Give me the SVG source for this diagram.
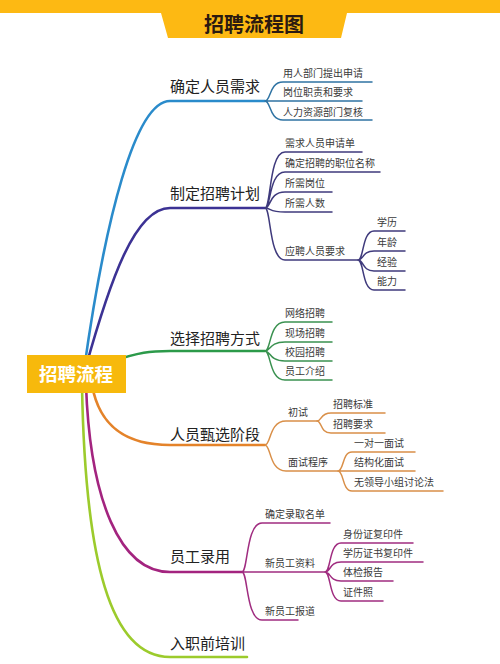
<svg xmlns="http://www.w3.org/2000/svg" width="500" height="664" viewBox="0 0 500 664">
<style>
text{font-family:"Noto Sans CJK SC","Noto Sans",sans-serif}
.main{font-size:15px;fill:#222}
.sub{font-size:10px;fill:#3a3a3a}
.c{fill:none;stroke-linecap:round}
.m{stroke-width:2.6}
.s{stroke-width:1.5}
.blue{stroke:#2a8bcb}.blues{stroke:#2f73a3}
.pur{stroke:#3c3294}.purs{stroke:#3f3a7c}
.grn{stroke:#2c9a4a}.grns{stroke:#3a9150}
.org{stroke:#e4832a}.orgs{stroke:#d98f48}
.mag{stroke:#a3247f}.mags{stroke:#a02d80}
.yg{stroke:#9ccb2c}
</style>
<rect width="500" height="664" fill="#fff"/>
<g id="title">
<polygon points="0,0 500,0 500,13 347,13 341,38 168,38 161,13 0,13" fill="#fdb913"/>
<text x="254" y="32" text-anchor="middle" font-size="20" font-weight="bold" fill="#2b1a10">招聘流程图</text>
</g>
<g id="connectors">
<path class="c m blue" d="M84,370 C105,220 135,101 170,101 H265"/>
<path class="c m pur" d="M85,370 C110,280 135,208 170,208 H265"/>
<path class="c m grn" d="M110,362 C140,352 150,351 170,351 H265"/>
<path class="c m org" d="M92,385 C100,430 130,445 170,445 H265"/>
<path class="c m mag" d="M86,385 C90,500 120,572 170,572 H242"/>
<path class="c m yg" d="M82,385 C85,560 110,657 170,657 H247"/>
<path class="c s blues" d="M265,101 C271,101 269,82 283,82 H372 M265,101 H362 M265,101 C271,101 269,120 283,120 H372"/>
<path class="c s purs" d="M265,208 C271,208 269,152 285,152 H362 M265,208 C271,208 269,172 285,172 H380 M265,208 C271,208 269,192 285,192 H332 M265,208 C271,208 269,212 285,212 H332 M265,208 C271,208 269,260 285,260 H358"/>
<path class="c s purs" d="M358,260 C364,260 362,231 374,231 H405 M358,260 C364,260 362,251 374,251 H405 M358,260 C364,260 362,271 374,271 H405 M358,260 C364,260 362,290 374,290 H405"/>
<path class="c s grns" d="M265,351 C271,351 269,322 285,322 H332 M265,351 C271,351 269,342 285,342 H332 M265,351 C271,351 269,361 285,361 H332 M265,351 C271,351 269,380 285,380 H332"/>
<path class="c s orgs" d="M265,445 C271,445 269,421 286,421 H317 M265,445 C271,445 269,471 286,471 H338"/>
<path class="c s orgs" d="M317,421 C322,421 320,413 331,413 H385 M317,421 C322,421 320,433 331,433 H385"/>
<path class="c s orgs" d="M338,471 C344,471 342,452 352,452 H415 M338,471 H415 M338,471 C344,471 342,491 352,491 H443"/>
<path class="c s mags" d="M242,572 C248,572 246,523 262,523 H330 M242,572 H325 M242,572 C248,572 246,620 262,620 H298"/>
<path class="c s mags" d="M325,572 C331,572 329,543 341,543 H413 M325,572 C331,572 329,562 341,562 H423 M325,572 C331,572 329,581 341,581 H393 M325,572 C331,572 329,601 341,601 H383"/>
</g>
<g id="root">
<rect x="27" y="355" width="99" height="38" fill="#f7b90c"/>
<text x="76" y="381" text-anchor="middle" font-size="18.5" font-weight="bold" fill="#fff">招聘流程</text>
</g>
<g id="n1"><text class="main" x="170" y="92">确定人员需求</text></g>
<g id="n1a"><text class="sub" x="283" y="77">用人部门提出申请</text></g>
<g id="n1b"><text class="sub" x="283" y="96">岗位职责和要求</text></g>
<g id="n1c"><text class="sub" x="283" y="116">人力资源部门复核</text></g>
<g id="n2"><text class="main" x="170" y="199">制定招聘计划</text></g>
<g id="n2a"><text class="sub" x="285" y="147">需求人员申请单</text></g>
<g id="n2b"><text class="sub" x="285" y="167">确定招聘的职位名称</text></g>
<g id="n2c"><text class="sub" x="285" y="187">所需岗位</text></g>
<g id="n2d"><text class="sub" x="285" y="207">所需人数</text></g>
<g id="n2e"><text class="sub" x="285" y="255">应聘人员要求</text></g>
<g id="n2e1"><text class="sub" x="377" y="226">学历</text></g>
<g id="n2e2"><text class="sub" x="377" y="246">年龄</text></g>
<g id="n2e3"><text class="sub" x="377" y="266">经验</text></g>
<g id="n2e4"><text class="sub" x="377" y="285">能力</text></g>
<g id="n3"><text class="main" x="170" y="344">选择招聘方式</text></g>
<g id="n3a"><text class="sub" x="285" y="317">网络招聘</text></g>
<g id="n3b"><text class="sub" x="285" y="337">现场招聘</text></g>
<g id="n3c"><text class="sub" x="285" y="356">校园招聘</text></g>
<g id="n3d"><text class="sub" x="285" y="375">员工介绍</text></g>
<g id="n4"><text class="main" x="170" y="440">人员甄选阶段</text></g>
<g id="n4a"><text class="sub" x="288" y="416">初试</text></g>
<g id="n4a1"><text class="sub" x="333" y="408">招聘标准</text></g>
<g id="n4a2"><text class="sub" x="333" y="428">招聘要求</text></g>
<g id="n4b"><text class="sub" x="288" y="466">面试程序</text></g>
<g id="n4b1"><text class="sub" x="354" y="447">一对一面试</text></g>
<g id="n4b2"><text class="sub" x="354" y="466">结构化面试</text></g>
<g id="n4b3"><text class="sub" x="354" y="486">无领导小组讨论法</text></g>
<g id="n5"><text class="main" x="170" y="562">员工录用</text></g>
<g id="n5a"><text class="sub" x="265" y="518">确定录取名单</text></g>
<g id="n5b"><text class="sub" x="265" y="567">新员工资料</text></g>
<g id="n5b1"><text class="sub" x="343" y="538">身份证复印件</text></g>
<g id="n5b2"><text class="sub" x="343" y="557">学历证书复印件</text></g>
<g id="n5b3"><text class="sub" x="343" y="576">体检报告</text></g>
<g id="n5b4"><text class="sub" x="343" y="596">证件照</text></g>
<g id="n5c"><text class="sub" x="265" y="615">新员工报道</text></g>
<g id="n6"><text class="main" x="170" y="649">入职前培训</text></g>
</svg>
